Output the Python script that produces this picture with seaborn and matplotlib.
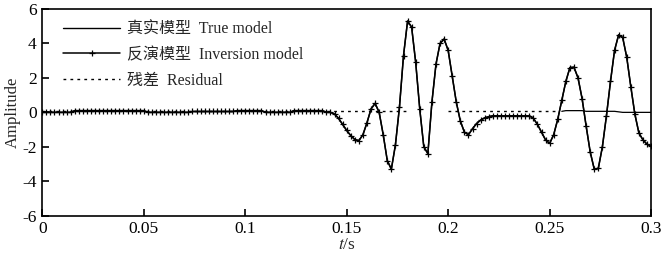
import numpy as np
import pandas as pd
import matplotlib
matplotlib.use("Agg")
import matplotlib.pyplot as plt
import seaborn as sns

# sample times (s), one sample every 2 ms
t = np.round(np.arange(0, 0.3001, 0.002), 3)

# inversion model amplitude
inversion = (
    [0.0] * 8                     # 0.000 - 0.014
    + [0.1] * 18                  # 0.016 - 0.050
    + [0.0] * 11                  # 0.052 - 0.072
    + [0.05] * 11                 # 0.074 - 0.094
    + [0.1] * 7                   # 0.096 - 0.108
    + [0.0] * 7                   # 0.110 - 0.122
    + [0.1] * 8                   # 0.124 - 0.138
    + [0.0, 0.0, -0.1, -0.35, -0.7, -1.05, -1.35, -1.58, -1.64, -1.3,     # 0.140 - 0.158
       -0.6, 0.2, 0.52, 0.0, -1.3, -2.8, -3.3, -1.9, 0.3, 3.3,           # 0.160 - 0.178
       5.3, 4.95, 2.9, 0.2, -2.0, -2.4, 0.6, 2.8, 4.0, 4.26,             # 0.180 - 0.198
       3.6, 2.1, 0.6, -0.5, -1.15, -1.3, -0.95, -0.65, -0.45, -0.32,     # 0.200 - 0.218
       -0.25]                                                            # 0.220
    + [-0.2] * 10                 # 0.222 - 0.240
    + [-0.35, -0.7, -1.15, -1.6, -1.8, -1.3, -0.4, 0.7, 1.8, 2.6,        # 0.242 - 0.260
       2.62, 2.0, 0.8, -0.8, -2.3, -3.3, -3.25, -2.0, -0.2, 1.8,         # 0.262 - 0.280
       3.6, 4.5, 4.35, 3.2, 1.5, -0.1, -1.2, -1.6, -1.85, -1.95]         # 0.282 - 0.300
)

# true model lies on top of the inversion curve
true_model = list(inversion)

# residual (NaN where it is hidden by the curves)
residual = (
    [0.06] * 91                   # 0.000 - 0.180
    + [np.nan] * 9                # 0.182 - 0.198
    + [0.06] * 28                 # 0.200 - 0.254
    + [0.06, 0.1, 0.1, 0.1, 0.1, 0.1, 0.06, 0.06, 0.06, 0.06,           # 0.256 - 0.274
       0.06, 0.06, 0.06, 0.06, 0.03, 0.0, 0.0, 0.0, 0.0, 0.0,            # 0.276 - 0.294
       0.0, 0.0, 0.0]                                                   # 0.296 - 0.300
)

df = pd.DataFrame({"t": t, "inv": inversion, "true": true_model, "res": residual})

sns.set_theme(style="ticks")
plt.rcParams["font.family"] = ["Liberation Serif", "Noto Sans CJK SC"]
plt.rcParams["mathtext.fontset"] = "stix"
plt.rcParams["axes.linewidth"] = 1.2

fig, ax = plt.subplots(figsize=(6.61, 2.58), dpi=100)
fig.subplots_adjust(left=0.064, right=0.985, top=0.965, bottom=0.164)

# Residual: dotted part, then thin solid part at the end
dotted = df[(df["t"] <= 0.2545) & df["res"].notna()]
first = dotted[dotted["t"] <= 0.181]
second = dotted[dotted["t"] >= 0.199]
sns.lineplot(x="t", y="res", data=first, ax=ax, color="black", lw=1.0,
             linestyle=(0, (2, 3)), label="残差  Residual")
sns.lineplot(x="t", y="res", data=second, ax=ax, color="black", lw=1.0,
             linestyle=(0, (2, 3)), legend=False)
sns.lineplot(x="t", y="res", data=df[df["t"] >= 0.2545], ax=ax, color="black",
             lw=0.9, legend=False)

# True model and inversion model
sns.lineplot(x="t", y="true", data=df, ax=ax, color="black", lw=1.0,
             label="真实模型  True model")
sns.lineplot(x="t", y="inv", data=df, ax=ax, color="black", lw=1.1,
             marker="+", markersize=5, markeredgewidth=0.9, markeredgecolor="black",
             label="反演模型  Inversion model")

ax.set_xlim(0, 0.3)
ax.set_ylim(-6, 6)
ax.set_xticks([0, 0.05, 0.1, 0.15, 0.2, 0.25, 0.3])
ax.set_xticklabels(["0", "0.05", "0.1", "0.15", "0.2", "0.25", "0.3"])
ax.set_yticks([-6, -4, -2, 0, 2, 4, 6])
ax.set_yticklabels(["-6", "-4", "-2", "0", "2", "4", "6"])
ax.tick_params(direction="in", length=5, width=1.2, labelsize=12.5, colors="black", pad=4)
for s in ax.spines.values():
    s.set_visible(True)
    s.set_color("black")

ax.set_xlabel(r"$t$/s", fontsize=12.5, labelpad=0)
ax.set_ylabel("Amplitude", fontsize=12, labelpad=1)

# Legend in the order shown in the picture
handles, labels = ax.get_legend_handles_labels()
order = [labels.index("真实模型  True model"), labels.index("反演模型  Inversion model"),
         labels.index("残差  Residual")]
ax.legend([handles[i] for i in order], [labels[i] for i in order], loc="upper left",
          bbox_to_anchor=(0.01, 1.01), frameon=False, fontsize=11.5, handlelength=3.6,
          handletextpad=0.4, labelspacing=0.6)

fig.savefig("out.png", dpi=100)
